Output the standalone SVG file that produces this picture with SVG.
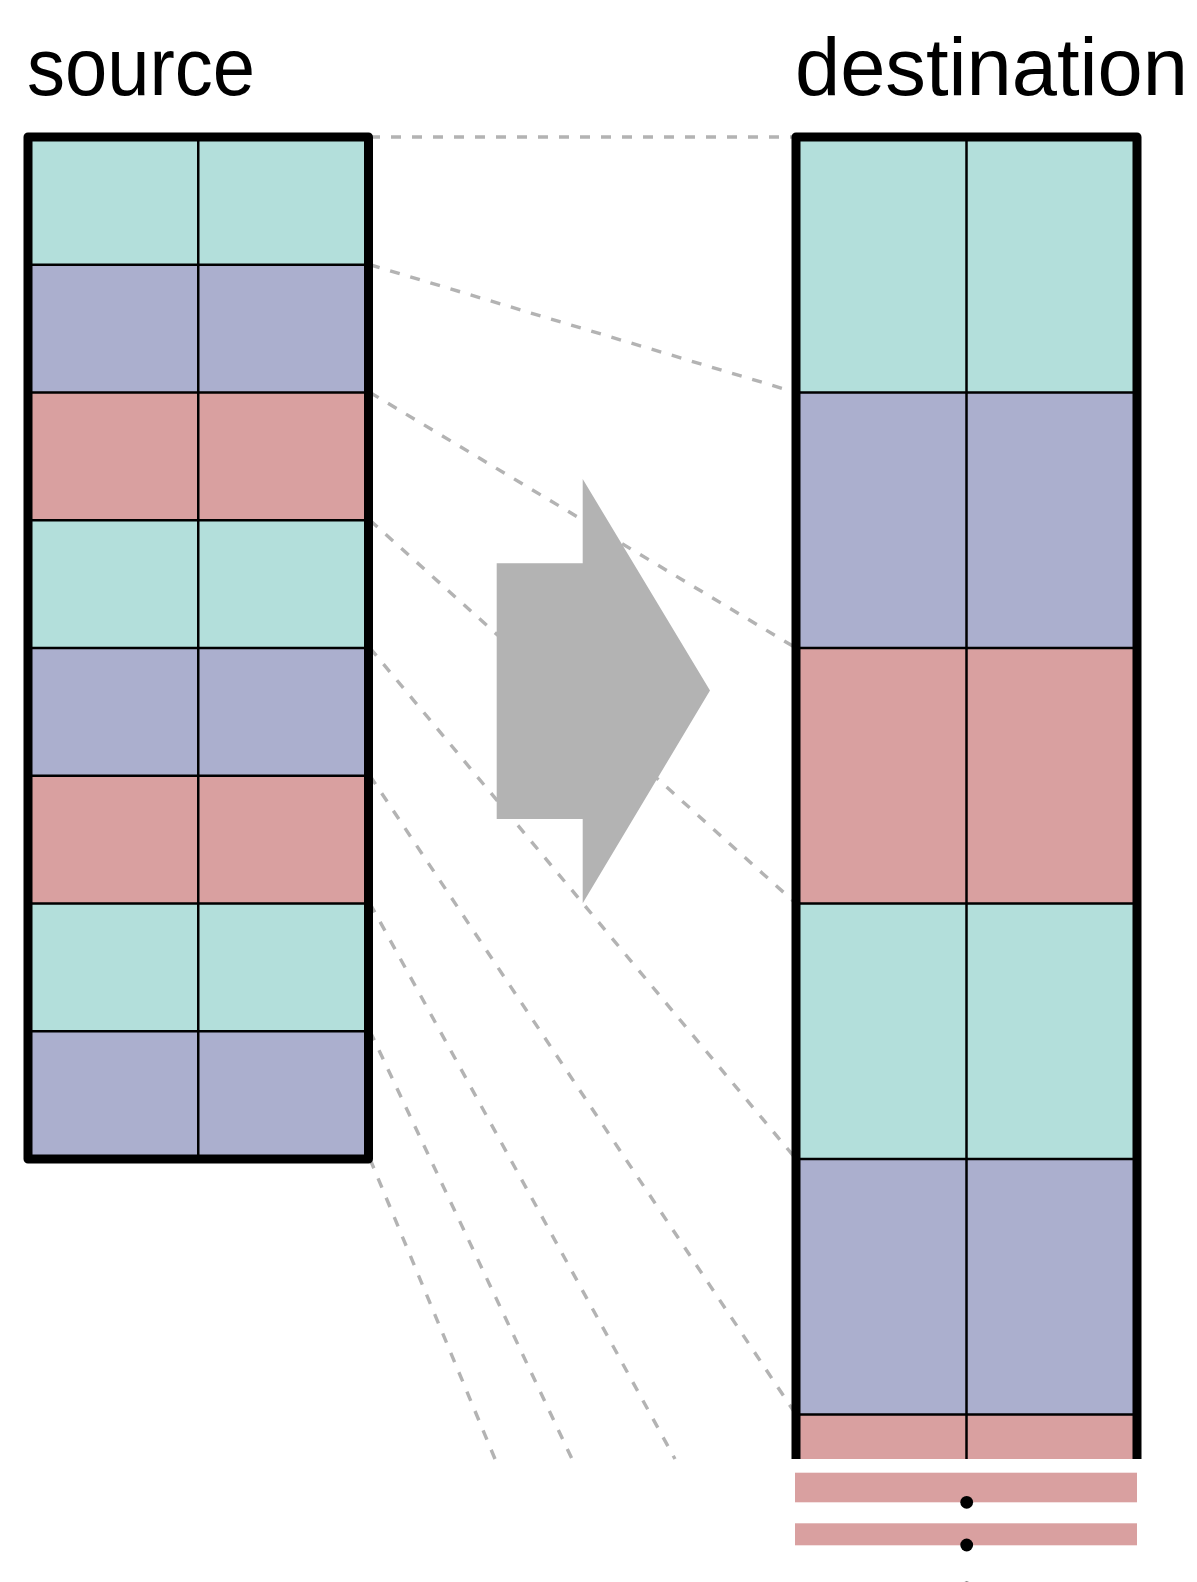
<svg xmlns="http://www.w3.org/2000/svg" width="1197" height="1582" viewBox="0 0 1197 1582">
  <style>
    .teal { fill: #b3dfdb; }
    .lav { fill: #abafce; }
    .pink { fill: #d9a0a0; }
    .grid { stroke: #000; stroke-width: 2.5; fill: none; }
    .frame { stroke: #000; stroke-width: 9; fill: none; stroke-linejoin: round; }
    .dash { stroke: #b3b3b3; stroke-width: 3.4; stroke-dasharray: 10 11; fill: none; }
    .label { font-family: "Liberation Sans", Arial, sans-serif; font-size: 82px; fill: #000; }
  </style>
  <rect width="1197" height="1582" fill="#fff"/>

  <g id="connectors">
    <line class="dash" x1="370" y1="137" x2="796" y2="137"/>
    <line class="dash" x1="370" y1="264.75" x2="796" y2="392.5"/>
    <line class="dash" x1="370" y1="392.5" x2="796" y2="648"/>
    <line class="dash" x1="370" y1="520.25" x2="796" y2="903.5"/>
    <line class="dash" x1="370" y1="648" x2="796" y2="1159"/>
    <line class="dash" x1="370" y1="775.75" x2="796" y2="1414.5"/>
    <line class="dash" x1="370" y1="903.5" x2="675" y2="1459"/>
    <line class="dash" x1="370" y1="1031.25" x2="572" y2="1459"/>
    <line class="dash" x1="370" y1="1159" x2="495" y2="1459"/>
  </g>

  <g id="source">
    <rect class="teal" x="28" y="137" width="340.5" height="127.75"/>
    <rect class="lav" x="28" y="264.75" width="340.5" height="127.75"/>
    <rect class="pink" x="28" y="392.5" width="340.5" height="127.75"/>
    <rect class="teal" x="28" y="520.25" width="340.5" height="127.75"/>
    <rect class="lav" x="28" y="648" width="340.5" height="127.75"/>
    <rect class="pink" x="28" y="775.75" width="340.5" height="127.75"/>
    <rect class="teal" x="28" y="903.5" width="340.5" height="127.75"/>
    <rect class="lav" x="28" y="1031.25" width="340.5" height="127.75"/>
    <path class="grid" d="M28 264.75H368.5M28 392.5H368.5M28 520.25H368.5M28 648H368.5M28 775.75H368.5M28 903.5H368.5M28 1031.25H368.5M198.25 137V1159"/>
    <rect class="frame" x="28" y="137" width="340.5" height="1022"/>
  </g>

  <g id="destination">
    <rect class="teal" x="796" y="137" width="341" height="255.5"/>
    <rect class="lav" x="796" y="392.5" width="341" height="255.5"/>
    <rect class="pink" x="796" y="648" width="341" height="255.5"/>
    <rect class="teal" x="796" y="903.5" width="341" height="255.5"/>
    <rect class="lav" x="796" y="1159" width="341" height="255.5"/>
    <rect class="pink" x="796" y="1414.5" width="341" height="44.5"/>
    <path class="grid" d="M796 392.5H1137M796 648H1137M796 903.5H1137M796 1159H1137M796 1414.5H1137M966.5 137V1459"/>
    <path class="frame" d="M796 1459V137H1137V1459"/>
  </g>

  <g id="continuation">
    <rect class="pink" x="795" y="1472.7" width="342" height="29.6"/>
    <rect class="pink" x="795" y="1523.3" width="342" height="22"/>
    <circle cx="966.7" cy="1502.3" r="6.4" fill="#000"/>
    <circle cx="966.7" cy="1545" r="6.4" fill="#000"/>
    <circle cx="966.7" cy="1588" r="6.4" fill="#000"/>
  </g>

  <g id="arrow">
    <polygon points="496.7,563.3 582.7,563.3 582.7,479 710,690.5 582.7,903.3 582.7,819 496.7,819" fill="#b3b3b3"/>
  </g>

  <g id="labels">
    <text class="label" x="27" y="95" textLength="228" lengthAdjust="spacingAndGlyphs">source</text>
    <text class="label" x="795" y="94.5" textLength="393" lengthAdjust="spacingAndGlyphs">destination</text>
  </g>
</svg>
